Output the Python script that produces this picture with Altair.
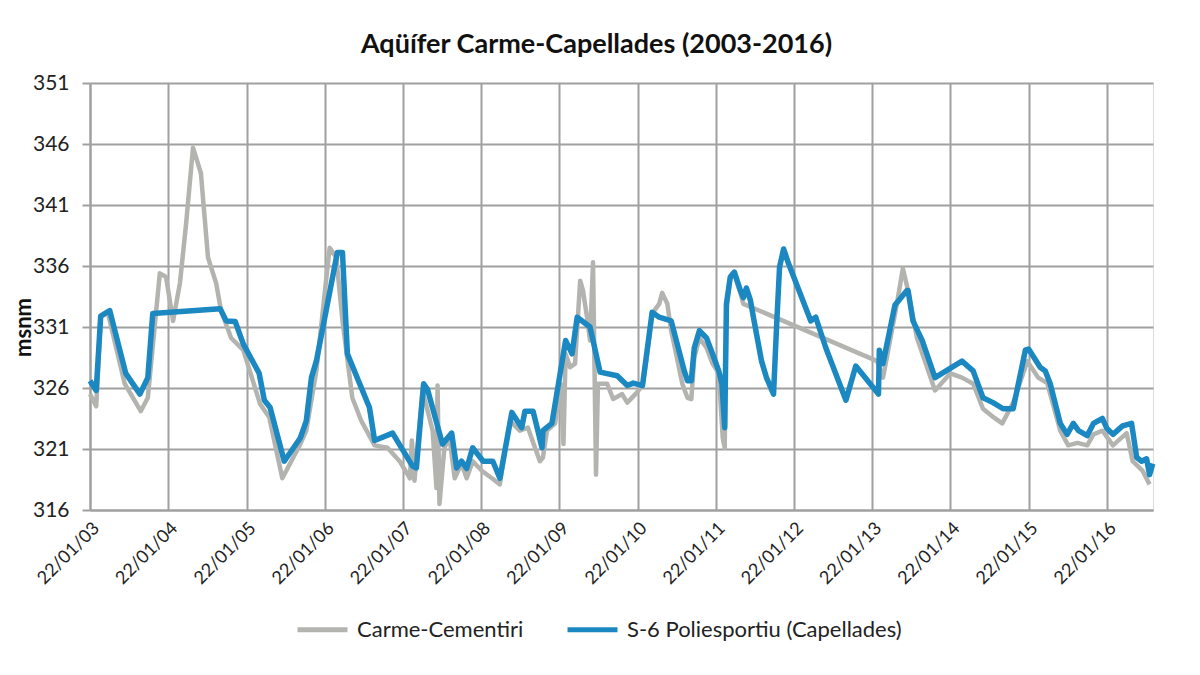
import altair as alt
import pandas as pd

series_names = ["Carme-Cementiri", "S-6 Poliesportiu (Capellades)"]
series_colors = ["#b3b3af", "#1b88c2"]

gray_dates = [
    "2003-01-22", "2003-02-20", "2003-03-13", "2003-04-15", "2003-07-03", "2003-09-16", "2003-10-19",
    "2003-12-14", "2004-01-12", "2004-02-14", "2004-03-17", "2004-04-15", "2004-05-17", "2004-06-23",
    "2004-07-26", "2004-09-02", "2004-09-25", "2004-11-11", "2005-01-07", "2005-03-26", "2005-05-08",
    "2005-07-08", "2005-09-30", "2005-10-28", "2005-12-14", "2006-02-14", "2006-03-17", "2006-04-15",
    "2006-05-31", "2006-07-12", "2006-09-12", "2006-11-11", "2007-01-07", "2007-02-24", "2007-03-05",
    "2007-03-17", "2007-04-24", "2007-06-10", "2007-06-28", "2007-07-03", "2007-07-12", "2007-08-04",
    "2007-08-28", "2007-09-21", "2007-10-23", "2007-11-16", "2007-12-14", "2008-01-27", "2008-03-13",
    "2008-04-19", "2008-06-05", "2008-07-21", "2008-08-28", "2008-09-30", "2008-10-23", "2008-11-06",
    "2008-11-25", "2009-01-02", "2009-01-27", "2009-02-10", "2009-02-20", "2009-03-13", "2009-04-05",
    "2009-04-29", "2009-05-12", "2009-05-31", "2009-06-14", "2009-06-28", "2009-07-12", "2009-07-21",
    "2009-09-02", "2009-09-30", "2009-11-11", "2009-12-05", "2010-01-12", "2010-02-14", "2010-03-08",
    "2010-03-31", "2010-05-03", "2010-05-17", "2010-06-10", "2010-06-28", "2010-07-21", "2010-08-19",
    "2010-09-12", "2010-09-30", "2010-10-14", "2010-11-07", "2010-12-10", "2011-01-07", "2011-02-05",
    "2011-02-24", "2011-03-05", "2011-03-13", "2011-03-31", "2011-04-19", "2011-05-17", "2011-05-31",
    "2013-02-14", "2013-03-13", "2013-03-31", "2013-05-17", "2013-06-14", "2013-07-08", "2013-08-19",
    "2013-11-11", "2014-01-22", "2014-03-17", "2014-05-08", "2014-06-23", "2014-08-04", "2014-09-21",
    "2014-11-11", "2015-01-16", "2015-03-08", "2015-04-19", "2015-06-19", "2015-07-26", "2015-09-07",
    "2015-10-23", "2015-11-21", "2016-01-02", "2016-02-20", "2016-04-24", "2016-05-22", "2016-07-08",
    "2016-08-09",
]
gray_values = [
    325.5, 324.5, 331.8, 332.2, 326.35, 324.1, 325.2,
    335.4, 335.1, 331.5, 334.6, 339.5, 345.7, 343.6,
    336.7, 334.6, 332.35, 330.1, 329.1, 324.7, 323.6,
    318.6, 321.4, 322.5, 327.4, 337.5, 336.7, 331.5,
    325.2, 323.3, 321.3, 321.1, 320.0, 318.6, 321.7,
    318.4, 325.8, 322.5, 317.8, 326.2, 316.5, 321.1,
    321.9, 318.6, 319.8, 318.6, 320.0, 319.2, 318.6,
    318.1, 323.3, 322.5, 322.75, 321.1, 320.0, 320.3,
    322.5, 323.1, 326.35, 321.4, 328.8, 327.7, 328.0,
    334.8, 334.0, 331.8, 329.9, 336.3, 318.9, 326.35,
    326.35, 325.1, 325.5, 324.8, 325.5, 326.2, 328.8,
    332.1, 332.9, 333.8, 332.9, 330.7, 328.8, 326.35,
    325.2, 325.1, 328.5, 330.1, 329.3, 328.0, 327.2,
    321.9, 321.1, 332.5, 335.0, 335.3, 333.8, 332.9,
    328.2, 326.85, 328.5, 332.9, 335.8, 334.0, 330.1,
    325.8, 327.2, 326.85, 326.35, 324.3, 323.7, 323.1,
    324.8, 328.2, 326.85, 326.4, 322.5, 321.3, 321.5,
    321.3, 322.2, 322.5, 321.3, 322.3, 320.0, 319.2,
    318.1,
]

blue_dates = [
    "2003-01-22", "2003-02-20", "2003-03-13", "2003-04-24", "2003-07-08", "2003-09-12", "2003-10-19",
    "2003-11-11", "2004-09-21", "2004-10-19", "2004-11-30", "2005-01-07", "2005-03-22", "2005-04-15",
    "2005-05-12", "2005-07-17", "2005-09-30", "2005-10-28", "2005-11-21", "2005-12-14", "2006-03-22",
    "2006-04-15", "2006-05-08", "2006-08-19", "2006-09-12", "2006-12-05", "2007-03-08", "2007-03-26",
    "2007-04-29", "2007-05-17", "2007-07-26", "2007-09-07", "2007-09-30", "2007-10-23", "2007-11-16",
    "2007-12-14", "2008-02-01", "2008-03-17", "2008-04-19", "2008-06-14", "2008-07-30", "2008-08-14",
    "2008-09-21", "2008-11-02", "2008-11-06", "2008-12-18", "2009-02-20", "2009-03-22", "2009-04-15",
    "2009-06-14", "2009-07-31", "2009-10-19", "2009-12-05", "2010-01-02", "2010-02-14", "2010-03-31",
    "2010-05-03", "2010-06-28", "2010-08-28", "2010-09-12", "2010-09-30", "2010-10-14", "2010-11-07",
    "2010-12-10", "2011-01-07", "2011-02-05", "2011-02-20", "2011-03-05", "2011-03-13", "2011-03-31",
    "2011-04-19", "2011-05-17", "2011-05-31", "2011-06-14", "2011-07-03", "2011-07-17", "2011-08-24",
    "2011-09-16", "2011-10-19", "2011-11-02", "2011-11-16", "2011-12-05", "2011-12-28", "2012-04-10",
    "2012-05-03", "2012-06-19", "2012-09-21", "2012-11-06", "2013-02-20", "2013-02-24", "2013-03-13",
    "2013-05-08", "2013-07-03", "2013-07-08", "2013-07-31", "2013-09-12", "2013-11-11", "2014-03-17",
    "2014-05-08", "2014-06-23", "2014-08-09", "2014-09-25", "2014-11-11", "2015-01-07", "2015-01-22",
    "2015-03-17", "2015-04-10", "2015-05-03", "2015-06-19", "2015-07-21", "2015-08-19", "2015-09-12",
    "2015-10-23", "2015-11-21", "2016-01-02", "2016-01-22", "2016-02-20", "2016-04-05", "2016-05-17",
    "2016-06-10", "2016-07-03", "2016-07-26", "2016-08-09", "2016-08-24",
]
blue_values = [
    326.6, 325.8, 331.9, 332.35, 327.2, 325.5, 326.85,
    332.1, 332.5, 331.5, 331.45, 329.6, 327.2, 325.0,
    324.4, 320.0, 321.9, 323.3, 326.85, 328.2, 337.1,
    337.1, 328.8, 324.4, 321.7, 322.3, 319.6, 319.45,
    326.35, 325.9, 321.4, 322.3, 319.45, 320.0, 319.4,
    321.1, 320.0, 320.0, 318.6, 324.0, 322.75, 324.1,
    324.1, 321.1, 322.5, 323.1, 329.9, 328.8, 331.8,
    331.0, 327.3, 327.0, 326.2, 326.4, 326.2, 332.2,
    331.8, 331.5, 327.4, 326.6, 326.6, 329.3, 330.7,
    330.1, 328.8, 327.4, 326.35, 322.75, 332.9, 335.1,
    335.5, 334.0, 333.4, 334.2, 333.2, 331.8, 328.2,
    326.85, 325.5, 331.0, 335.9, 337.4, 336.2, 331.5,
    331.8, 329.3, 325.0, 327.8, 325.5, 329.1, 328.0,
    332.8, 334.0, 334.0, 331.5, 329.9, 326.85, 328.2,
    327.4, 325.2, 324.8, 324.3, 324.3, 329.1, 329.2,
    327.7, 327.4, 326.35, 323.1, 322.2, 323.1, 322.5,
    322.1, 323.1, 323.5, 322.7, 322.2, 322.9, 323.1,
    320.3, 320.0, 320.2, 318.9, 319.8,
]

tick_years = list(range(2003, 2017))
y_ticks = [316, 321, 326, 331, 336, 341, 346, 351]

gray_df = pd.DataFrame({"date": gray_dates, "value": gray_values, "serie": series_names[0]})
blue_df = pd.DataFrame({"date": blue_dates, "value": blue_values, "serie": series_names[1]})

color_scale = alt.Scale(domain=series_names, range=series_colors)
x_enc = alt.X(
    "date:T",
    scale=alt.Scale(
        type="utc",
        domain=[alt.DateTime(year=2003, month=1, date=22, utc=True),
                alt.DateTime(year=2016, month=8, date=25, utc=True)],
    ),
    axis=alt.Axis(
        values=[alt.DateTime(year=y, month=1, date=22, utc=True) for y in tick_years],
        format="%d/%m/%y", title=None,
        labelAngle=315, labelAlign="right", labelBaseline="top",
        labelFont="Lato", labelFontSize=18, labelColor="#222222", labelPadding=9,
        ticks=False,
        domainColor="#a0a0a0", domainWidth=2,
        gridColor="#a0a0a0", gridWidth=2, labelOverlap=False,
    ),
)
y_enc = alt.Y(
    "value:Q",
    scale=alt.Scale(domain=[316, 351], nice=False, zero=False),
    axis=alt.Axis(
        values=y_ticks, title="msnm", titleFont="Lato", titleFontSize=22, titleFontWeight="bold",
        titleColor="#111111", titleX=-67, titleY=244, titleAlign="center", titleBaseline="middle",
        labelFont="Lato", labelFontSize=21, labelColor="#222222", labelPadding=13,
        tickSize=8, tickColor="#a0a0a0", tickWidth=2,
        domainColor="#a0a0a0", domainWidth=2,
        gridColor="#a0a0a0", gridWidth=2,
    ),
)
color_enc = alt.Color(
    "serie:N", scale=color_scale, sort=series_names,
    legend=alt.Legend(
        title=None, orient="none", direction="horizontal", legendX=205, legendY=519,
        symbolType="stroke", symbolSize=2500, symbolStrokeWidth=5, padding=0,
        labelFont="Lato", labelFontSize=22, labelColor="#222222", labelOffset=7,
        columnPadding=33, labelLimit=400,
    ),
)

gray_line = alt.Chart(gray_df).mark_line(strokeWidth=4.5, strokeJoin="round").encode(
    x=x_enc, y=y_enc, color=color_enc
)
blue_line = alt.Chart(blue_df).mark_line(strokeWidth=5.5, strokeJoin="round").encode(
    x=x_enc, y=y_enc, color=color_enc
)

chart = alt.layer(gray_line, blue_line).properties(
    width=1063, height=427,
    autosize=alt.AutoSizeParams(type="none"),
    padding={"left": 82, "top": 75, "right": 39, "bottom": 157},
    title=alt.TitleParams(
        "Aqüífer Carme-Capellades (2003-2016)", font="Lato", fontSize=27, fontWeight="bold",
        color="#111111", anchor="middle", frame="group", dx=-25, dy=36, offset=22, baseline="bottom",
    ),
).configure_view(stroke=None).configure(background="white")

chart.save("out.html", embed_options={"renderer": "svg", "actions": False})
